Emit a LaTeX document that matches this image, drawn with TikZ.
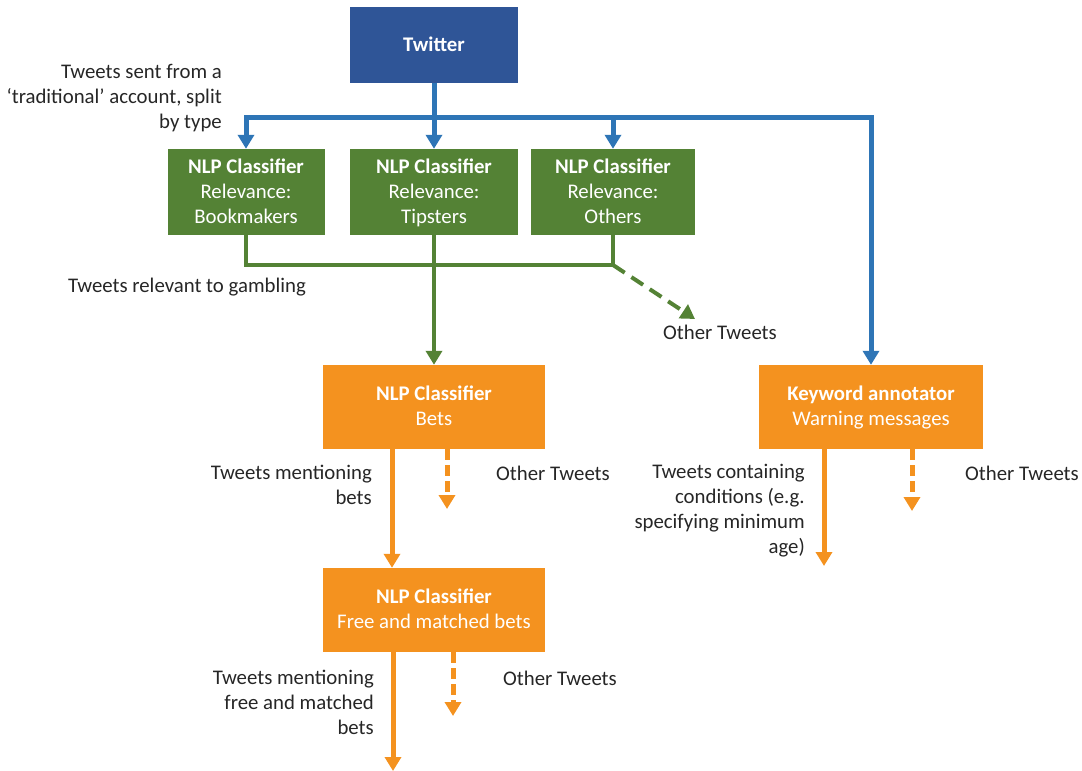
\documentclass[tikz,border=0pt]{standalone}
\usepackage{fontspec}
\setmainfont{Carlito}
\usetikzlibrary{arrows.meta}

\definecolor{twblue}{HTML}{2F5597}
\definecolor{lineblue}{HTML}{2E75B6}
\definecolor{nlpgreen}{HTML}{548235}
\definecolor{nlporange}{HTML}{F4921F}
\definecolor{notegray}{HTML}{262626}

\newcommand{\topstrut}{\rule{0pt}{19.5pt}}

\begin{document}
\begin{tikzpicture}[x=1pt,y=-1pt,
    every node/.style={font=\fontsize{20.8}{25}\selectfont, inner sep=0pt},
    box/.style={text=white, align=center, minimum height=84pt},
    note/.style={text=notegray, align=right, anchor=base east},
    tip/.style={-{Triangle[width=16pt,length=14pt]}},
    blueline/.style={draw=lineblue, line width=5pt},
    greenline/.style={draw=nlpgreen, line width=4pt},
    orangeline/.style={draw=nlporange, line width=5pt},
    otherdash/.style={dash pattern=on 11pt off 5pt}]
    \useasboundingbox (0,0) rectangle (1082,771);

    % boxes
    \node[box, fill=twblue, minimum width=168pt, minimum height=76pt] (twitter) at (434,45) {\topstrut\textbf{Twitter}\strut};

    \node[box, fill=nlpgreen, minimum width=157pt, minimum height=86pt] (bookies) at (246,192) {\topstrut\textbf{NLP Classifier}\\Relevance:\\Bookmakers\strut};
    \node[box, fill=nlpgreen, minimum width=168pt, minimum height=86pt] (tipsters) at (434,192) {\topstrut\textbf{NLP Classifier}\\Relevance:\\Tipsters\strut};
    \node[box, fill=nlpgreen, minimum width=164pt, minimum height=86pt] (others) at (613,192) {\topstrut\textbf{NLP Classifier}\\Relevance:\\Others\strut};

    \node[box, fill=nlporange, minimum width=222pt] (bets) at (434,407) {\topstrut\textbf{NLP Classifier}\\Bets\strut};
    \node[box, fill=nlporange, minimum width=222pt] (freebets) at (434,610) {\topstrut\textbf{NLP Classifier}\\Free and matched bets\strut};
    \node[box, fill=nlporange, minimum width=224pt] (keyword) at (871,407) {\topstrut\textbf{Keyword annotator}\\Warning messages\strut};

    % split points and loose ends
    \coordinate (split) at (434,117);
    \coordinate (splitleft) at (246,117);
    \coordinate (splitright) at (871,117);
    \coordinate (merge) at (613,265);
    \coordinate (mergeleft) at (246,265);
    \coordinate (othergreen) at (695,319);
    \coordinate (betsyes) at (392,567);
    \coordinate (betsno) at (447,509);
    \coordinate (freeyes) at (393,771);
    \coordinate (freeno) at (453,716);
    \coordinate (kwyes) at (824,566);
    \coordinate (kwno) at (912,511);

    % blue
    \draw[blueline] (twitter.south) -- (split);
    \draw[blueline, tip] (split) -- (tipsters.north);
    \draw[blueline, tip] (split -| others.north) -- (others.north);
    \draw[blueline, {Triangle[width=16pt,length=14pt]}-{Triangle[width=16pt,length=14pt]}] (bookies.north) -- (splitleft) -- (splitright) -- (keyword.north);

    % green
    \draw[greenline] (bookies.south) -- (mergeleft) -- (merge) -- (others.south);
    \draw[greenline, tip] (tipsters.south) -- (bets.north);
    \draw[greenline, tip, dash pattern=on 14pt off 8pt] (merge) -- (othergreen);

    % orange
    \draw[orangeline, tip] (bets.south -| betsyes) -- (freebets.north -| betsyes);
    \draw[orangeline, tip, otherdash] (bets.south -| betsno) -- (betsno);
    \draw[orangeline, tip] (freebets.south -| freeyes) -- (freeyes);
    \draw[orangeline, tip, otherdash] (freebets.south -| freeno) -- (freeno);
    \draw[orangeline, tip] (keyword.south -| kwyes) -- (kwyes);
    \draw[orangeline, tip, otherdash] (keyword.south -| kwno) -- (kwno);

    % labels (base = last line)
    \node[note] (sentlbl) at (222,128) {Tweets sent from a\\`traditional' account, split\\by type};
    \node[note] (relevlbl) at (306,292) {Tweets relevant to gambling};
    \node[note, anchor=base west] (otherlbl1) at (663,339) {Other Tweets};
    \node[note] (betslbl) at (372,504) {Tweets mentioning\\bets};
    \node[note, anchor=base west] (otherlbl2) at (496,480) {Other Tweets};
    \node[note] (freelbl) at (374,734) {Tweets mentioning\\free and matched\\bets};
    \node[note, anchor=base west] (otherlbl3) at (503,685) {Other Tweets};
    \node[note] (kwlbl) at (805,553) {Tweets containing\\conditions (e.g.\\specifying minimum\\age)};
    \node[note, anchor=base west] (otherlbl4) at (965,480) {Other Tweets};
\end{tikzpicture}
\end{document}
